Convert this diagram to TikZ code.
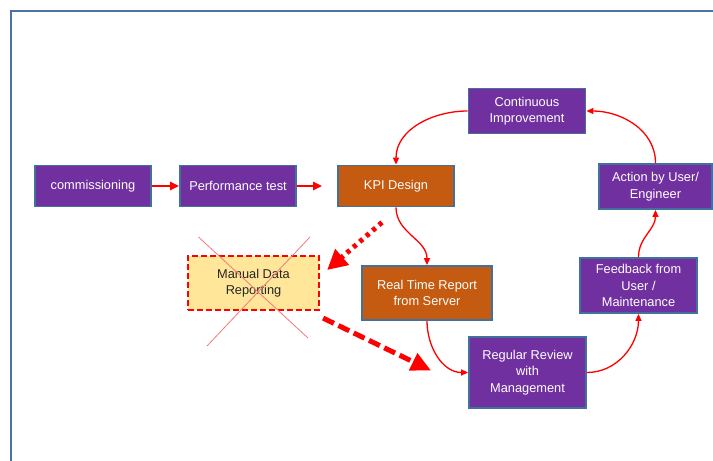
\documentclass[tikz,border=0pt]{standalone}
\usepackage{fontspec}
\setmainfont{Liberation Sans}
\usetikzlibrary{arrows.meta, shapes, positioning}

\definecolor{kpipurple}{HTML}{7030A0}
\definecolor{kpiorange}{HTML}{C55A11}
\definecolor{kpiborder}{HTML}{41719C}
\definecolor{kpiyellow}{HTML}{FFE699}
\definecolor{kpired}{HTML}{FF0000}
\definecolor{kpicross}{HTML}{F27A7A}
\definecolor{kpiframe}{HTML}{4A72A2}

\tikzset{
	stage/.style = {rectangle, draw=kpiborder, line width=1.8pt, fill=kpipurple, text=white,
		minimum width=116pt, minimum height=41pt, align=center, inner sep=2pt,
		font=\fontsize{12.8}{16.5}\selectfont},
	report/.style = {stage, fill=kpiorange},
	dropped/.style = {stage, draw=kpired, line width=2.2pt, dash pattern=on 6pt off 3pt, fill=kpiyellow, text=black!85},
	flow/.style = {kpired, line width=2.2pt, -{Triangle[length=9pt,width=8pt]}},
	loop/.style = {kpired, line width=1.3pt, -{Triangle[length=7pt,width=6pt]}},
	dotarrow/.style = {kpired, line width=5pt, dash pattern=on 4pt off 4.5pt, -{Triangle[length=20pt,width=20pt]}},
	dasharrow/.style = {kpired, line width=5pt, dash pattern=on 12pt off 5pt, -{Triangle[length=20pt,width=18pt]}},
	cross/.style = {kpicross, line width=0.8pt}
}

\begin{document}
\begin{tikzpicture}[x=1pt, y=1pt, on grid, auto]
	\path[use as bounding box, clip] (0,0) rectangle (713,-461);
	\draw[kpiframe, line width=2.4pt] (11,-11) rectangle (740,-490);

	\node[stage] (comm) at (93,-186) {commissioning};
	\node[stage, right = 145pt of comm] (perf) {Performance test};
	\node[report, right = 158pt of perf] (kpi) {KPI Design};
	\node[report, below right = 107pt and 31pt of kpi, minimum width=130pt, minimum height=54pt] (real) {Real Time Report\\from Server};
	\node[dropped, below left = 97pt and 142.5pt of kpi, minimum width=131pt, minimum height=54pt] (manual) {Manual Data\\Reporting};
	\node[stage, below right = 79.5pt and 100.5pt of real, minimum width=117pt, minimum height=71pt] (regular) {Regular Review\\with\\Management};
	\node[stage, above right = 87pt and 111pt of regular, minimum width=117pt, minimum height=55pt] (feed) {Feedback from\\User /\\Maintenance};
	\node[stage, above right = 99pt and 17pt of feed, minimum width=113pt, minimum height=45pt] (action) {Action by User/\\Engineer};
	\node[stage, above left = 75.5pt and 128.5pt of action, minimum width=117pt, minimum height=45pt] (cont) {Continuous\\Improvement};

	% crossed out box
	\draw[cross] ([shift={(-55pt,46pt)}]manual.center) -- ([shift={(54.5pt,-55pt)}]manual.center);
	\draw[cross] ([shift={(56.5pt,46pt)}]manual.center) -- ([shift={(-46.5pt,-63pt)}]manual.center);

	\path[flow] (comm) edge (perf)
	(perf) edge[shorten >=15pt] (kpi);

	\path[loop] (kpi.south) edge[out=-90, in=90] (real.north)
	(real.south)   edge[out=-90, in=180] (regular.west)
	(regular.east) edge[out=0, in=-90]   (feed.south)
	(feed.north)   edge[out=90, in=-90]  (action.south)
	(action.north) edge[out=90, in=0]    (cont.east)
	(cont.west)    edge[out=180, in=90]  (kpi.north);

	\coordinate (dotS) at ([shift={(-14pt,-15pt)}]kpi.south);
	\coordinate (dotE) at ([shift={(7pt,13pt)}]manual.east);
	\coordinate (dashS) at ([shift={(3pt,-7pt)}]manual.south east);
	\coordinate (dashE) at ([shift={(-37pt,2pt)}]regular.west);
	\draw[dotarrow] (dotS) -- (dotE);
	\draw[dasharrow] (dashS) -- (dashE);
\end{tikzpicture}
\end{document}
